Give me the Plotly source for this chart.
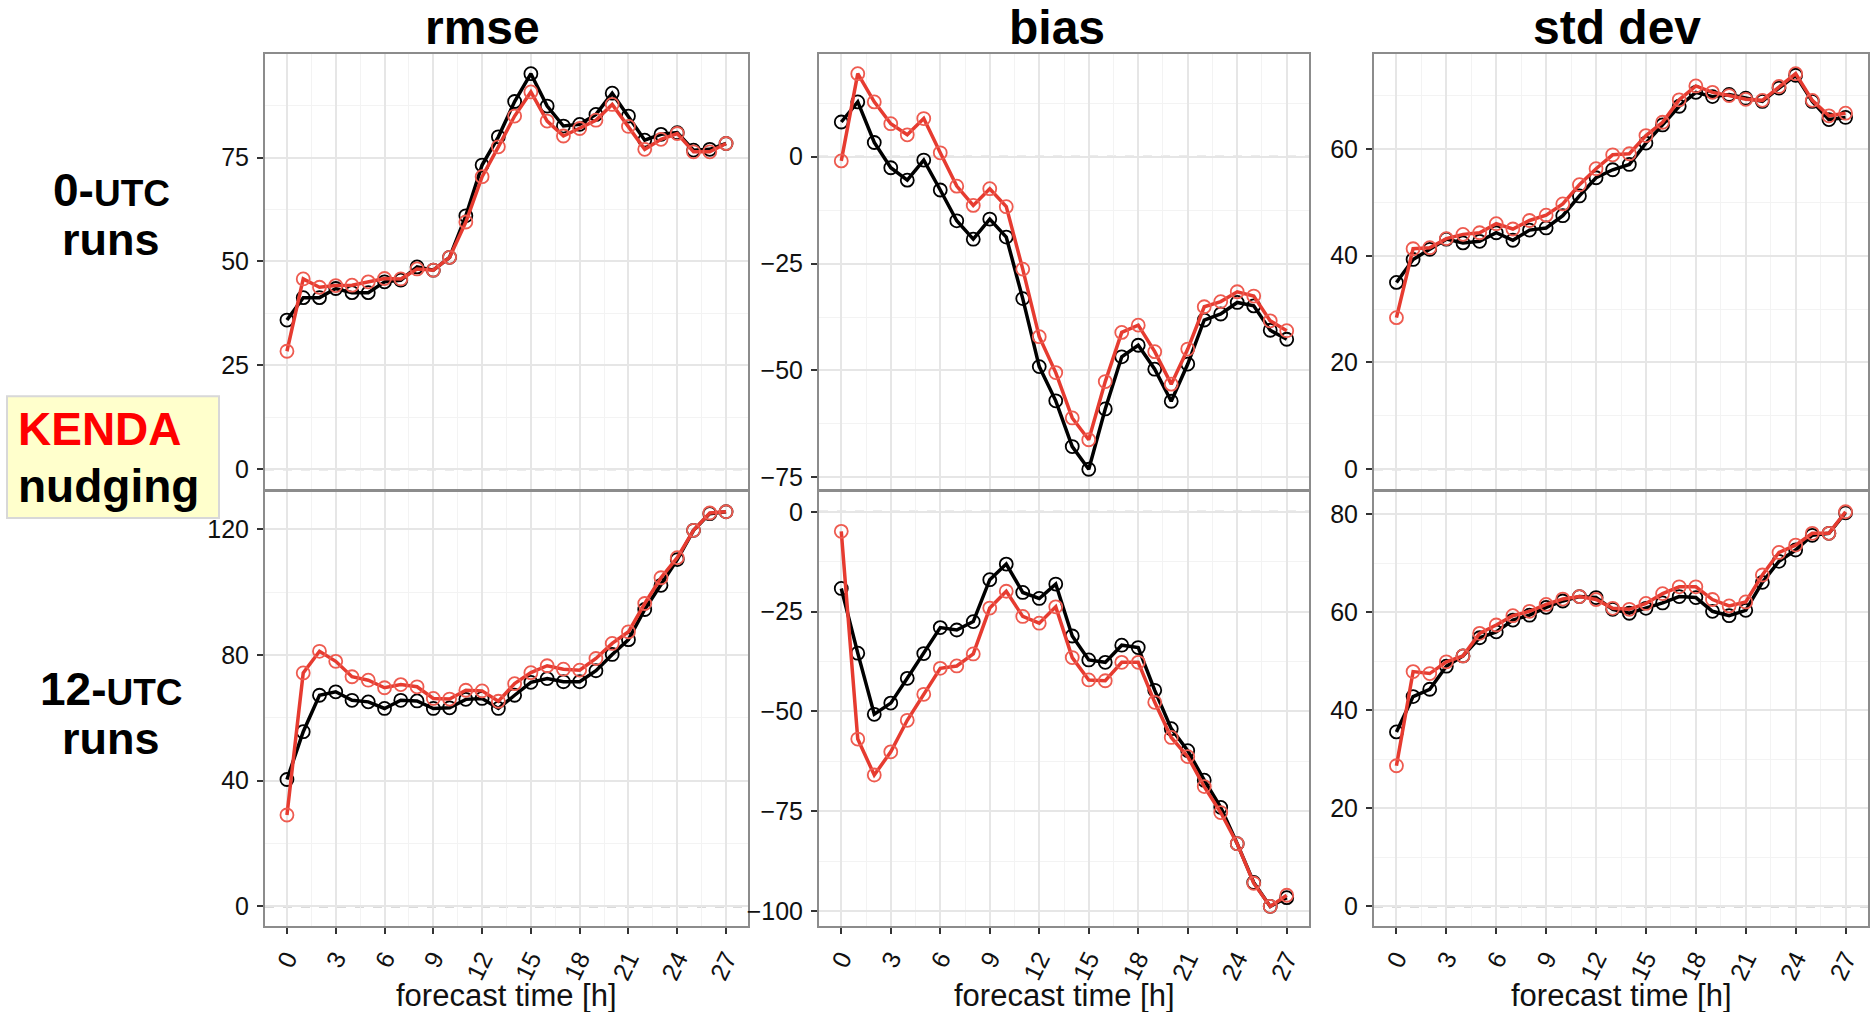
import plotly.graph_objects as go

# forecast lead time [h]
hours = list(range(28))

# 00 UTC runs
rmse_00_nudging = [35.9, 41.3, 41.3, 43.5, 42.5, 42.5, 45.1, 45.5, 48.7, 47.9, 51.0, 61.0, 73.2, 80.0,
                   88.5, 95.2, 87.4, 82.6, 83.0, 85.4, 90.5, 85.0, 79.2, 80.6, 81.0, 76.8, 77.0, 78.4]
rmse_00_kenda = [28.4, 45.8, 43.8, 44.2, 44.3, 45.1, 45.9, 45.8, 48.2, 47.9, 51.0, 59.5, 70.4, 77.6,
                 85.0, 90.8, 83.8, 80.2, 82.0, 84.0, 87.8, 82.5, 77.0, 79.4, 80.8, 76.4, 76.4, 78.4]
bias_00_nudging = [8.1, 12.8, 3.3, -2.6, -5.5, -0.8, -7.8, -15.0, -19.3, -14.6, -18.8, -33.2, -49.1, -57.1,
                   -67.8, -73.1, -59.0, -46.8, -44.1, -49.7, -57.2, -48.5, -38.2, -36.8, -34.1, -34.9, -40.6, -42.7]
bias_00_kenda = [-1.0, 19.4, 12.8, 7.7, 5.1, 8.9, 0.9, -6.9, -11.4, -7.5, -11.7, -26.3, -42.1, -50.5,
                 -61.1, -66.2, -52.6, -41.1, -39.4, -45.6, -53.2, -45.0, -35.1, -33.9, -31.6, -32.6, -38.4, -40.7]
std_00_nudging = [35.0, 39.3, 41.2, 43.1, 42.4, 42.7, 44.3, 42.9, 44.8, 45.2, 47.5, 51.2, 54.6, 56.1,
                  57.1, 61.1, 64.5, 68.0, 70.6, 69.8, 70.2, 69.5, 68.9, 71.4, 73.8, 68.9, 65.5, 65.9]
std_00_kenda = [28.4, 41.3, 41.5, 43.2, 44.0, 44.3, 46.0, 45.0, 46.6, 47.6, 49.7, 53.3, 56.3, 58.9,
                59.1, 62.5, 65.0, 69.2, 71.8, 70.6, 70.0, 69.3, 69.1, 71.7, 74.1, 69.1, 66.2, 66.7]

# 12 UTC runs
rmse_12_nudging = [40.4, 55.6, 67.2, 68.3, 65.6, 65.1, 63.0, 65.6, 65.4, 63.0, 63.2, 65.9, 66.2, 63.0,
                   67.2, 71.3, 72.5, 71.5, 71.5, 75.0, 80.2, 84.9, 94.5, 102.2, 110.4, 119.7, 125.0, 125.6]
rmse_12_kenda = [29.1, 74.3, 81.2, 78.0, 73.1, 72.0, 69.6, 70.6, 69.9, 66.2, 66.0, 68.8, 68.6, 65.3,
                 70.9, 74.4, 76.6, 75.5, 75.2, 78.9, 83.7, 87.4, 96.4, 104.6, 111.0, 119.7, 125.2, 125.6]
bias_12_nudging = [-19.2, -35.4, -50.7, -47.9, -41.7, -35.5, -29.0, -29.6, -27.5, -17.0, -13.1, -20.2, -21.7, -18.1,
                   -31.1, -37.1, -37.7, -33.4, -34.0, -44.7, -54.3, -59.8, -67.2, -74.0, -83.1, -92.8, -98.8, -96.6]
bias_12_kenda = [-4.9, -56.9, -65.9, -60.1, -52.2, -45.7, -39.2, -38.6, -35.6, -24.1, -19.9, -26.2, -27.9, -23.8,
                 -36.5, -42.1, -42.3, -37.7, -37.7, -47.7, -56.5, -61.3, -68.8, -75.3, -83.1, -93.0, -98.8, -96.0]
std_12_nudging = [35.6, 42.8, 44.3, 49.0, 51.1, 54.8, 56.0, 58.4, 59.4, 61.0, 62.3, 63.2, 63.0, 60.6,
                  59.8, 60.8, 61.9, 63.2, 63.0, 60.2, 59.3, 60.4, 66.1, 70.4, 72.7, 75.7, 76.1, 80.3]
std_12_kenda = [28.7, 47.9, 47.5, 49.9, 51.1, 55.7, 57.4, 59.3, 60.2, 61.6, 62.7, 63.2, 62.6, 60.8,
                60.6, 61.8, 63.8, 65.2, 65.2, 62.6, 61.3, 62.1, 67.6, 72.2, 73.7, 76.1, 76.1, 80.5]

column_titles = ["rmse", "bias", "std dev"]
x_tick_step = 3
y_tick_steps = [[25, 25, 20], [40, 25, 20]]

panels = [
    [(rmse_00_nudging, rmse_00_kenda), (bias_00_nudging, bias_00_kenda), (std_00_nudging, std_00_kenda)],
    [(rmse_12_nudging, rmse_12_kenda), (bias_12_nudging, bias_12_kenda), (std_12_nudging, std_12_kenda)],
]

W, H = 1875, 1012
col_px = [(265, 748), (819, 1309), (1374, 1868)]
row_px = [(54, 490), (493, 928)]

FONT = "Liberation Sans, Arial, sans-serif"
NUDGING_COLOR = "#000000"
KENDA_COLOR = "#E63B30"
KENDA_MARKER = "#EE5B50"
BORDER = "#8C8C8C"
GRID_MAJOR = "#E6E6E6"
GRID_MINOR = "#F3F3F3"


def px_x(v):
    return v / W


def px_y(v):
    return 1 - v / H


def expanded(lo, hi, frac=0.05):
    pad = (hi - lo) * frac
    return [lo - pad, hi + pad]


fig = go.Figure()
layout = {}
x_lo, x_hi = min(hours), max(hours)

for r in range(2):
    for c in range(3):
        i = r * 3 + c + 1
        sfx = "" if i == 1 else str(i)
        nud, ken = panels[r][c]
        for vals, color, mcolor, name in ((nud, NUDGING_COLOR, NUDGING_COLOR, "nudging"),
                                          (ken, KENDA_COLOR, KENDA_MARKER, "KENDA")):
            fig.add_trace(go.Scatter(
                x=hours, y=vals, mode="lines+markers", name=name,
                xaxis="x" + sfx, yaxis="y" + sfx, showlegend=False,
                line=dict(color=color, width=3.5),
                marker=dict(symbol="circle-open", size=13, color=mcolor, line=dict(width=1.8)),
            ))

        lo = min(0, min(nud), min(ken))
        hi = max(0, max(nud), max(ken))
        ystep = y_tick_steps[r][c]
        bottom = r == 1
        layout["xaxis" + sfx] = dict(
            domain=[px_x(col_px[c][0]), px_x(col_px[c][1])],
            anchor="y" + sfx, range=expanded(x_lo, x_hi),
            tickmode="linear", tick0=0, dtick=x_tick_step,
            showgrid=True, gridcolor=GRID_MAJOR, gridwidth=1.5,
            minor=dict(tickmode="linear", tick0=0, dtick=x_tick_step / 2,
                       showgrid=True, gridcolor=GRID_MINOR, gridwidth=1),
            showline=True, mirror=True, linecolor=BORDER, linewidth=2,
            ticks="outside", ticklen=6 if bottom else 3, tickwidth=2, tickcolor="#333333",
            showticklabels=bottom, tickangle=-64,
            tickfont=dict(family=FONT, size=25, color="#111111"),
            zeroline=False, fixedrange=True,
        )
        layout["yaxis" + sfx] = dict(
            domain=[px_y(row_px[r][1]), px_y(row_px[r][0])],
            anchor="x" + sfx, range=expanded(lo, hi),
            tickmode="linear", tick0=0, dtick=ystep,
            showgrid=True, gridcolor=GRID_MAJOR, gridwidth=1.5,
            minor=dict(tickmode="linear", tick0=0, dtick=ystep / 2,
                       showgrid=True, gridcolor=GRID_MINOR, gridwidth=1),
            showline=True, mirror=True, linecolor=BORDER, linewidth=2,
            ticks="outside", ticklen=6, tickwidth=2, tickcolor="#333333",
            ticklabelstandoff=3,
            tickfont=dict(family=FONT, size=25, color="#111111"),
            zeroline=False, fixedrange=True,
        )
        # dashed reference line at zero
        fig.add_shape(type="line", xref=("x" + sfx + " domain"), yref="y" + sfx,
                      x0=0, x1=1, y0=0, y1=0, layer="below",
                      line=dict(color="#B5B5B5", width=2, dash="dash"))

annotations = []

# column headers
for title, cx in zip(column_titles, [482, 1057, 1617]):
    annotations.append(dict(text="<b>%s</b>" % title, x=px_x(cx), y=px_y(28), xref="paper", yref="paper",
                            xanchor="center", yanchor="middle", showarrow=False,
                            font=dict(family=FONT, size=48, color="black")))

# x axis titles
for c in range(3):
    cx = (col_px[c][0] + col_px[c][1]) / 2
    annotations.append(dict(text="forecast time [h]", x=px_x(cx), y=px_y(997), xref="paper", yref="paper",
                            xanchor="center", yanchor="middle", showarrow=False,
                            font=dict(family=FONT, size=31, color="#111111")))

# row labels
for lead, base in (("0", 206), ("12", 706)):
    annotations.append(dict(
        text='<b>%s-<span style="font-size:37px">UTC</span></b>' % lead,
        x=px_x(111), y=px_y(base - 16), xref="paper", yref="paper",
        xanchor="center", yanchor="middle", showarrow=False,
        font=dict(family=FONT, size=46, color="black")))
    annotations.append(dict(
        text="<b>runs</b>", x=px_x(111), y=px_y(base + 50 - 16), xref="paper", yref="paper",
        xanchor="center", yanchor="middle", showarrow=False,
        font=dict(family=FONT, size=45, color="black")))

# experiment key
annotations.append(dict(text="<b>KENDA</b>", x=px_x(16), y=px_y(430), xref="paper", yref="paper",
                        xanchor="left", yanchor="middle", showarrow=False,
                        font=dict(family=FONT, size=46, color="#FF0000")))
annotations.append(dict(text="<b>nudging</b>", x=px_x(16), y=px_y(487), xref="paper", yref="paper",
                        xanchor="left", yanchor="middle", showarrow=False,
                        font=dict(family=FONT, size=46, color="black")))

fig.add_shape(type="rect", xref="paper", yref="paper",
              x0=px_x(7), x1=px_x(219), y0=px_y(519), y1=px_y(397),
              fillcolor="#FFFFCC", line=dict(color="#D8D8D8", width=2), layer="below")

fig.update_layout(
    width=W, height=H, margin=dict(l=0, r=0, t=0, b=0),
    paper_bgcolor="white", plot_bgcolor="white",
    annotations=annotations, showlegend=False,
    **layout,
)

fig.write_html("out.html", config={"displayModeBar": False})
